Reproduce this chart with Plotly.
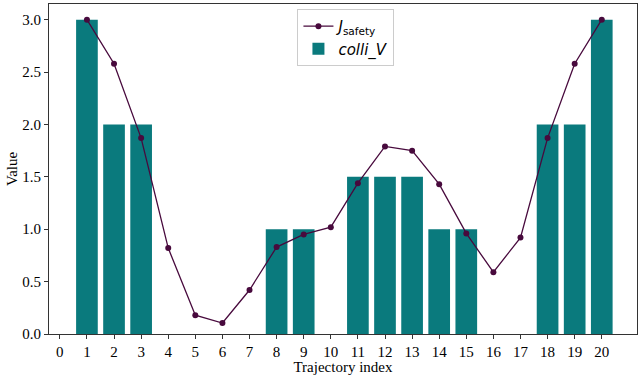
import plotly.graph_objects as go

idx = list(range(0, 21))
colli_v = [0, 3, 2, 2, 0, 0, 0, 0, 1, 1, 0, 1.5, 1.5, 1.5, 1, 1, 0, 0, 2, 2, 3]
line_x = list(range(1, 21))
j_safety = [3.0, 2.58, 1.87, 0.82, 0.18, 0.105, 0.42, 0.83, 0.95, 1.02,
            1.44, 1.79, 1.75, 1.43, 0.96, 0.59, 0.92, 1.87, 2.58, 3.0]

bar_color = "#0a7a7d"
line_color = "#480a3d"
serif = "Liberation Serif"

fig = go.Figure()
fig.add_trace(go.Bar(x=idx, y=colli_v, width=0.8, marker=dict(color=bar_color, line=dict(width=0)),
                     name="<i>colli_V</i>"))
fig.add_trace(go.Scatter(x=line_x, y=j_safety, mode="lines+markers",
                         line=dict(color=line_color, width=1.3),
                         marker=dict(color=line_color, size=6),
                         name="<i>J</i><sub>safety</sub>"))

fig.update_layout(
    width=638, height=375,
    margin=dict(l=49, r=1, t=4, b=41),
    plot_bgcolor="white", paper_bgcolor="white",
    showlegend=True,
    legend=dict(x=0.505, y=0.985, xanchor="center", yanchor="top",
                traceorder="reversed", tracegroupgap=0,
                bordercolor="#cccccc", borderwidth=1, bgcolor="white",
                font=dict(family="DejaVu Sans", size=15, color="black")),
    font=dict(family=serif, size=15, color="black"),
    annotations=[dict(text="Value", xref="paper", yref="paper",
                      x=(12 - 49) / 588, y=0.5, xanchor="center", yanchor="middle",
                      textangle=-90, showarrow=False,
                      font=dict(family=serif, size=15, color="black"))],
)
fig.update_xaxes(range=[-0.4, 21.3], tickmode="array", tickvals=idx,
                 ticktext=[str(i) for i in idx],
                 showline=True, linecolor="#333333", linewidth=1.2, mirror=True,
                 ticks="outside", ticklen=4, tickcolor="#333333",
                 showgrid=False, zeroline=False,
                 tickfont=dict(family=serif, size=15),
                 title=dict(text="Trajectory index", font=dict(family=serif, size=15), standoff=1))
fig.update_yaxes(range=[0, 3.15], tickmode="array", tickvals=[0, 0.5, 1, 1.5, 2, 2.5, 3],
                 ticktext=["0.0", "0.5", "1.0", "1.5", "2.0", "2.5", "3.0"],
                 showline=True, linecolor="#333333", linewidth=1.2, mirror=True,
                 ticks="outside", ticklen=4, tickcolor="#333333",
                 showgrid=False, zeroline=False,
                 tickfont=dict(family=serif, size=15))

fig.write_html("out.html")
